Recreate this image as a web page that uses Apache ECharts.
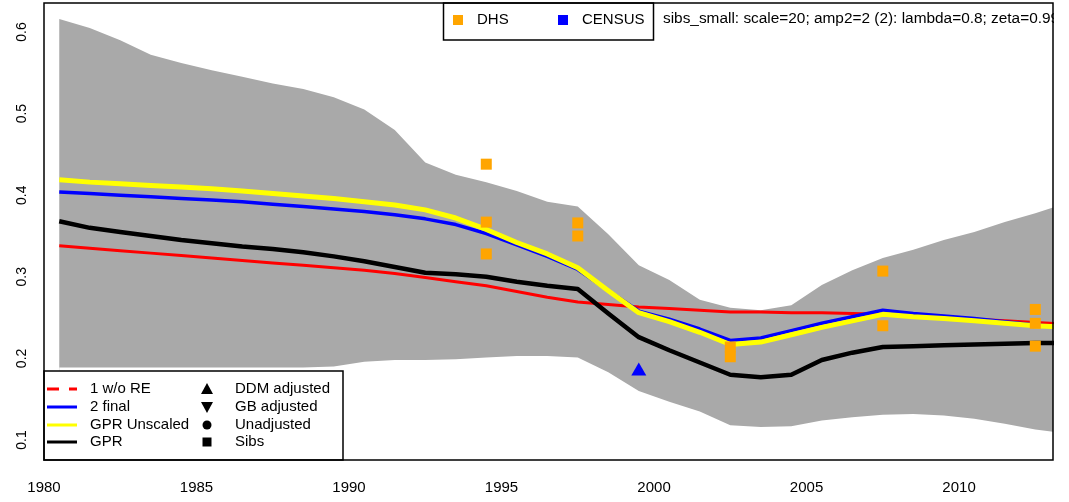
<!DOCTYPE html>
<html>
<head>
<meta charset="utf-8">
<script src="https://cdn.jsdelivr.net/npm/echarts@6/dist/echarts.min.js"></script>
<style>
html,body{margin:0;padding:0;background:#fff;}
#c{width:1069px;height:502px;}
</style>
</head>
<body>
<div id="c"></div>
<script>
// ---- data ----
const years = [1980.5,1981.5,1982.5,1983.5,1984.5,1985.5,1986.5,1987.5,1988.5,1989.5,
  1990.5,1991.5,1992.5,1993.5,1994.5,1995.5,1996.5,1997.5,1998.5,1999.5,
  2000.5,2001.5,2002.5,2003.5,2004.5,2005.5,2006.5,2007.5,2008.5,2009.5,
  2010.5,2011.5,2012.5,2013.5];
const bandUpper = [0.616,0.605,0.590,0.572,0.562,0.553,0.545,0.537,0.530,0.520,
  0.505,0.480,0.440,0.425,0.416,0.405,0.392,0.386,0.352,0.314,
  0.296,0.272,0.262,0.259,0.265,0.290,0.308,0.323,0.333,0.345,
  0.355,0.367,0.378,0.390];
const bandLower = [0.189,0.189,0.189,0.189,0.189,0.189,0.189,0.189,0.189,0.190,
  0.196,0.198,0.198,0.199,0.201,0.203,0.203,0.201,0.183,0.160,
  0.147,0.135,0.118,0.116,0.117,0.124,0.128,0.131,0.132,0.130,
  0.126,0.120,0.113,0.108];
const woRE = [0.338,0.335,0.332,0.329,0.326,0.323,0.320,0.317,0.314,0.311,
  0.308,0.304,0.299,0.294,0.289,0.282,0.275,0.269,0.266,0.263,
  0.261,0.259,0.257,0.257,0.256,0.256,0.255,0.254,0.252,0.250,
  0.248,0.246,0.244,0.242];
const finalV = [0.404,0.402,0.400,0.398,0.396,0.394,0.392,0.389,0.386,0.383,
  0.380,0.376,0.371,0.364,0.353,0.339,0.325,0.309,0.283,0.258,
  0.248,0.236,0.222,0.225,0.234,0.243,0.251,0.259,0.255,0.252,
  0.249,0.245,0.241,0.238];
const gprUnscaled = [0.419,0.416,0.414,0.412,0.410,0.408,0.405,0.402,0.399,0.396,
  0.392,0.388,0.382,0.372,0.358,0.342,0.328,0.311,0.283,0.256,
  0.245,0.232,0.217,0.220,0.229,0.238,0.246,0.254,0.251,0.249,
  0.246,0.243,0.240,0.238];
const gpr = [0.368,0.360,0.355,0.350,0.345,0.341,0.337,0.334,0.330,0.325,
  0.319,0.312,0.305,0.303,0.300,0.294,0.289,0.285,0.255,0.226,
  0.210,0.195,0.180,0.177,0.180,0.198,0.207,0.214,0.215,0.216,
  0.217,0.218,0.219,0.219];
const dhsYears = [1994.5,1994.5,1994.5,1997.5,1997.5,2002.5,2002.5,2007.5,2007.5,2012.5,2012.5,2012.5];
const dhsVals  = [0.438,0.367,0.328,0.366,0.350,0.214,0.202,0.307,0.240,0.260,0.243,0.215];
const censusYears = [1999.5];
const censusVals  = [0.187];
const xTicks = [1980,1985,1990,1995,2000,2005,2010];
const yTicks = [0.1,0.2,0.3,0.4,0.5,0.6];
const annotation = "sibs_small: scale=20; amp2=2 (2): lambda=0.8; zeta=0.99";
const legendLines = ["1 w/o RE","2 final","GPR Unscaled","GPR"];
const legendSymbols = ["DDM adjusted","GB adjusted","Unadjusted","Sibs"];

// ---- chart ----
const FONT = "'Liberation Sans', Arial, sans-serif";
const pair = (xs, vs) => xs.map((x, i) => [x, vs[i]]);
const near = (v, arr) => arr.some(t => Math.abs(t - v) < 1e-6);

const chart = echarts.init(document.getElementById('c'), null, {renderer: 'canvas'});

const L = 44, R = 1053, T = 3, B = 460;
const graphics = [];
// top legend
graphics.push({type:'rect', shape:{x:443.5,y:T,width:210,height:37}, style:{fill:'#fff',stroke:'#000',lineWidth:1.5}, z:100});
graphics.push({type:'rect', shape:{x:453,y:15,width:10,height:10}, style:{fill:'#FFA500'}, z:101});
graphics.push({type:'text', x:477, y:20, style:{text:'DHS', font:'15px '+FONT, fill:'#000', textVerticalAlign:'middle'}, z:101});
graphics.push({type:'rect', shape:{x:558,y:15,width:10,height:10}, style:{fill:'#0000FF'}, z:101});
graphics.push({type:'text', x:582, y:20, style:{text:'CENSUS', font:'15px '+FONT, fill:'#000', textVerticalAlign:'middle'}, z:101});
graphics.push({type:'text', x:663, y:19, style:{text:annotation, font:'15.4px '+FONT, fill:'#000', textVerticalAlign:'middle'}, z:101});
// clip beyond plot right
graphics.push({type:'rect', shape:{x:R+1,y:0,width:1069-R,height:502}, style:{fill:'#fff'}, z:102});
// bottom-left legend
const LB = {x:44, y:371, w:299, h:89};
graphics.push({type:'rect', shape:{x:LB.x,y:LB.y,width:LB.w,height:LB.h}, style:{fill:'#fff',stroke:'#000',lineWidth:1.5}, z:100});
const rowsY = [389,407,425,442];
const lineCols = ['#FF0000','#0000FF','#FFFF00','#000000'];
rowsY.forEach((yy, i) => {
  graphics.push({type:'line', shape:{x1:47,y1:yy,x2:77,y2:yy},
    style:{stroke:lineCols[i], lineWidth:3, lineDash: i===0 ? [12,10] : null}, z:101});
  graphics.push({type:'text', x:90, y:yy, style:{text:legendLines[i], font:'15px '+FONT, fill:'#000', textVerticalAlign:'middle'}, z:101});
  graphics.push({type:'text', x:235, y:yy, style:{text:legendSymbols[i], font:'15px '+FONT, fill:'#000', textVerticalAlign:'middle'}, z:101});
});
graphics.push({type:'polygon', shape:{points:[[207,rowsY[0]-6],[213,rowsY[0]+5],[201,rowsY[0]+5]]}, style:{fill:'#000'}, z:101});
graphics.push({type:'polygon', shape:{points:[[207,rowsY[1]+6],[213,rowsY[1]-5],[201,rowsY[1]-5]]}, style:{fill:'#000'}, z:101});
graphics.push({type:'circle', shape:{cx:207,cy:rowsY[2],r:4.5}, style:{fill:'#000'}, z:101});
graphics.push({type:'rect', shape:{x:202.5,y:rowsY[3]-4.5,width:9,height:9}, style:{fill:'#000'}, z:101});
// plot box border
graphics.push({type:'rect', shape:{x:L,y:T,width:R-L,height:B-T}, style:{fill:null,stroke:'#000',lineWidth:1.5}, z:103});

const lineSeries = (name, vals, color, width, z) => ({
  name, type:'line', data: pair(years, vals), symbol:'none', smooth:false,
  lineStyle:{color, width, join:'round'}, z, clip:true, silent:true
});

chart.setOption({
  animation:false,
  backgroundColor:'#fff',
  grid:{left:L, right:1069-R, top:T, bottom:502-B, containLabel:false},
  xAxis:{type:'value', min:1980, max:2013.08, interval:5,
    axisLine:{show:false}, axisTick:{show:false}, splitLine:{show:false},
    axisLabel:{margin:20, fontSize:15, color:'#000', fontFamily:FONT,
      formatter: v => near(v, xTicks) ? String(Math.round(v)) : ''}},
  yAxis:{type:'value', min:0.0755, max:0.6355, splitNumber:5,
    axisLine:{show:false}, axisTick:{show:false}, splitLine:{show:false},
    axisLabel:{margin:15, fontSize:14, color:'#000', fontFamily:FONT, rotate:90,
      formatter: v => near(Math.round(v*1000)/1000, yTicks) ? (Math.round(v*10)/10).toFixed(1) : ''}},
  graphic: graphics,
  series:[
    {name:'bandUpper', type:'line', data: pair(years, bandUpper), symbol:'none',
      lineStyle:{width:0, opacity:0}, areaStyle:{color:'#A9A9A9', opacity:1, origin:'start'}, z:1, silent:true},
    {name:'bandLower', type:'line', data: pair(years, bandLower), symbol:'none',
      lineStyle:{width:0, opacity:0}, areaStyle:{color:'#FFFFFF', opacity:1, origin:'start'}, z:1, silent:true},
    lineSeries('1 w/o RE', woRE, '#FF0000', 3, 2),
    lineSeries('2 final', finalV, '#0000FF', 3.5, 3),
    lineSeries('GPR Unscaled', gprUnscaled, '#FFFF00', 5, 4),
    lineSeries('GPR', gpr, '#000000', 4.5, 5),
    {name:'DHS', type:'scatter', data: pair(dhsYears, dhsVals), symbol:'rect', symbolSize:11,
      itemStyle:{color:'#FFA500', opacity:1}, z:6, silent:true},
    {name:'CENSUS', type:'scatter', data: pair(censusYears, censusVals), symbol:'triangle', symbolSize:[15,13],
      itemStyle:{color:'#0000FF', opacity:1}, z:6, silent:true}
  ]
});
</script>
</body>
</html>
